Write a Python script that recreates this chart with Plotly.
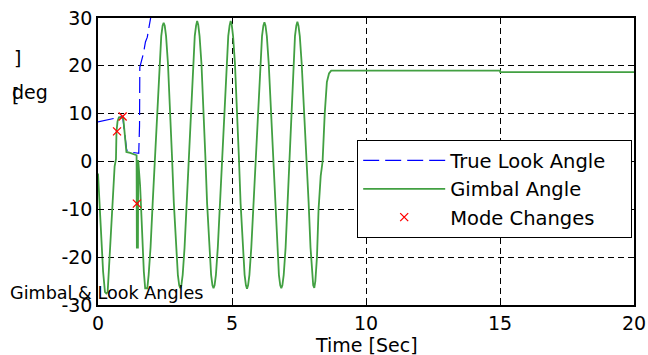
import plotly.graph_objects as go

# ---------------- data ----------------
gimbal_t = [0.00, 0.05, 0.12, 0.19, 0.26, 0.31, 0.36, 0.42, 0.48, 0.55, 0.62, 0.67, 0.69, 0.73, 0.78,
            0.94, 0.97, 1.02, 1.06, 1.20, 1.30, 1.44, 1.45, 1.49, 1.50, 1.53, 1.57, 1.61, 1.66, 1.71,
            1.76, 1.84, 1.89, 1.96, 2.04, 2.125, 2.21, 2.29, 2.36, 2.41, 2.45,
            2.49, 2.54, 2.61, 2.69, 2.76, 2.83, 2.91, 2.98, 3.03, 3.07,
            3.11, 3.16, 3.23, 3.31, 3.385, 3.46, 3.54, 3.61, 3.66, 3.70,
            3.74, 3.79, 3.86, 3.94, 4.005, 4.07, 4.15, 4.22, 4.27, 4.31,
            4.35, 4.40, 4.47, 4.55, 4.63, 4.71, 4.79, 4.86, 4.91, 4.95,
            4.99, 5.04, 5.11, 5.19, 5.255, 5.32, 5.40, 5.47, 5.52, 5.56,
            5.60, 5.65, 5.72, 5.80, 5.885, 5.97, 6.05, 6.12, 6.17, 6.21,
            6.25, 6.30, 6.37, 6.45, 6.525, 6.60, 6.68, 6.75, 6.80, 6.84,
            6.88, 6.93, 7.00, 7.07, 7.14, 7.21, 7.28, 7.35, 7.40, 7.44,
            7.48, 7.53, 7.60, 7.69, 7.78, 7.86, 7.93, 7.99, 8.03, 8.07,
            8.11, 8.17, 8.23, 8.31, 8.38, 8.46, 8.54, 8.62, 8.70, 15.00, 15.01, 20.00]
gimbal_deg = [-2.5, -8, -16, -23, -27.3, -27.6, -27.3, -21, -13, -6, -1, 0.5, 6.3, 8.4, 9.2,
              9.2, 7.5, 4.0, 2.0, 1.8, 1.6, 1.3, -18, -18, 0.3, -1.5, -5, -10, -17, -23,
              -26.5, -26.5, -23.7, -18.0, -8.7, 1.2, 11.2, 20.5, 26.2, 28.4, 29.0,
              28.4, 26.2, 20.5, 11.2, 1.2, -8.7, -18.0, -23.7, -25.9, -26.5,
              -25.9, -23.7, -18.0, -8.7, 1.2, 11.2, 20.5, 26.2, 28.4, 29.4,
              28.6, 26.2, 20.5, 11.2, 1.2, -8.7, -18.0, -23.7, -25.9, -26.5,
              -25.9, -23.7, -18.0, -8.7, 1.2, 11.2, 20.5, 26.2, 28.4, 29.4,
              28.6, 26.2, 20.5, 11.2, 1.2, -8.7, -18.0, -23.7, -25.9, -26.6,
              -25.9, -23.7, -18.0, -8.7, 1.2, 11.2, 20.5, 26.2, 28.4, 29.1,
              28.4, 26.2, 20.5, 11.2, 1.2, -8.7, -18.0, -23.7, -25.9, -26.5,
              -25.9, -23.7, -18.0, -8.7, 1.2, 11.2, 20.5, 26.2, 28.4, 29.2,
              28.4, 26.2, 20.5, 11.2, 1.2, -8.7, -18.0, -23.7, -25.9, -26.4,
              -25.0, -20.0, -10.0, -3.0, 0.0, 10.0, 16.6, 18.4, 19.0, 19.0, 18.7, 18.7]

look_t = [0.00, 0.92, 0.96, 1.02, 1.07, 1.30, 1.52, 1.55, 1.56, 1.62, 1.70, 1.77, 1.84, 1.90, 1.97]
look_deg = [8.3, 9.4, 7.5, 4.2, 2.4, 1.9, 1.7, 7.5, 19.7, 21.0, 22.7, 25.0, 26.0, 28.0, 30.2]

mode_t = [0.71, 0.92, 1.45]
mode_deg = [6.3, 9.4, -8.8]

x_ticks = [0, 5, 10, 15, 20]
x_ticktext = ["0", "5", "10", "15", "20"]
y_ticks = [-30, -20, -10, 0, 10, 20, 30]
y_ticktext = ["-30", "-20", "-10", "0", "10", "20", "30"]

FONT = "DejaVu Sans"
PAD = "\u00a0\u00a0\u00a0"  # extra room at the right of the legend box, as in the reference

fig = go.Figure()
fig.add_trace(go.Scatter(x=look_t, y=look_deg, mode="lines", name="True Look Angle" + PAD,
                         line=dict(color="#0000ff", width=1.2, dash="16px,6px")))
fig.add_trace(go.Scatter(x=gimbal_t, y=gimbal_deg, mode="lines", name="Gimbal Angle",
                         line=dict(color="rgb(66,160,66)", width=1.8)))
fig.add_trace(go.Scatter(x=mode_t, y=mode_deg, mode="markers", name="Mode Changes",
                         marker=dict(symbol="x-thin", size=8, color="red",
                                     line=dict(color="red", width=1.3))))

axis_common = dict(showline=True, linecolor="black", linewidth=1.5, mirror="ticks",
                   ticks="inside", ticklen=5, tickcolor="black", automargin=False,
                   showgrid=True, gridcolor="black", gridwidth=1, griddash="6px,4px",
                   zeroline=False, tickfont=dict(family=FONT, size=19, color="black"))

fig.update_xaxes(range=[0, 20], tickvals=x_ticks, ticktext=x_ticktext, **axis_common)
fig.update_yaxes(range=[-30, 30], tickvals=y_ticks, ticktext=y_ticktext, **axis_common)

annotations = [
    dict(text="Time [Sec]", x=10, xref="x", y=-0.139, yref="paper", showarrow=False,
         xanchor="center", yanchor="middle", font=dict(family=FONT, size=19, color="black")),
    dict(text="Gimbal & Look Angles", x=-0.167, xref="paper", y=0.042, yref="paper",
         showarrow=False, xanchor="left", yanchor="middle",
         font=dict(family=FONT, size=17.6, color="black")),
    dict(text="deg", x=-0.126, xref="paper", y=0.741, yref="paper", showarrow=False,
         xanchor="center", yanchor="middle", font=dict(family=FONT, size=19, color="black")),
    dict(text="]", x=-0.150, xref="paper", y=0.859, yref="paper", showarrow=False,
         xanchor="center", yanchor="middle", font=dict(family=FONT, size=19, color="black")),
    dict(text="[", x=-0.154, xref="paper", y=0.730, yref="paper", showarrow=False,
         xanchor="center", yanchor="middle", font=dict(family=FONT, size=19, color="black")),
]

fig.update_layout(
    width=648, height=355,
    margin=dict(l=98, r=14, t=18, b=50, autoexpand=False),
    paper_bgcolor="white", plot_bgcolor="white",
    font=dict(family=FONT, color="black"),
    showlegend=True,
    legend=dict(x=0.483, y=0.575, xanchor="left", yanchor="top",
                bgcolor="white", bordercolor="black", borderwidth=1.3,
                font=dict(family=FONT, size=19.5, color="black"), itemwidth=82),
    annotations=annotations,
)

fig.write_html("out.html", config={"displayModeBar": False},
               post_script="document.body.style.margin='0px';")
